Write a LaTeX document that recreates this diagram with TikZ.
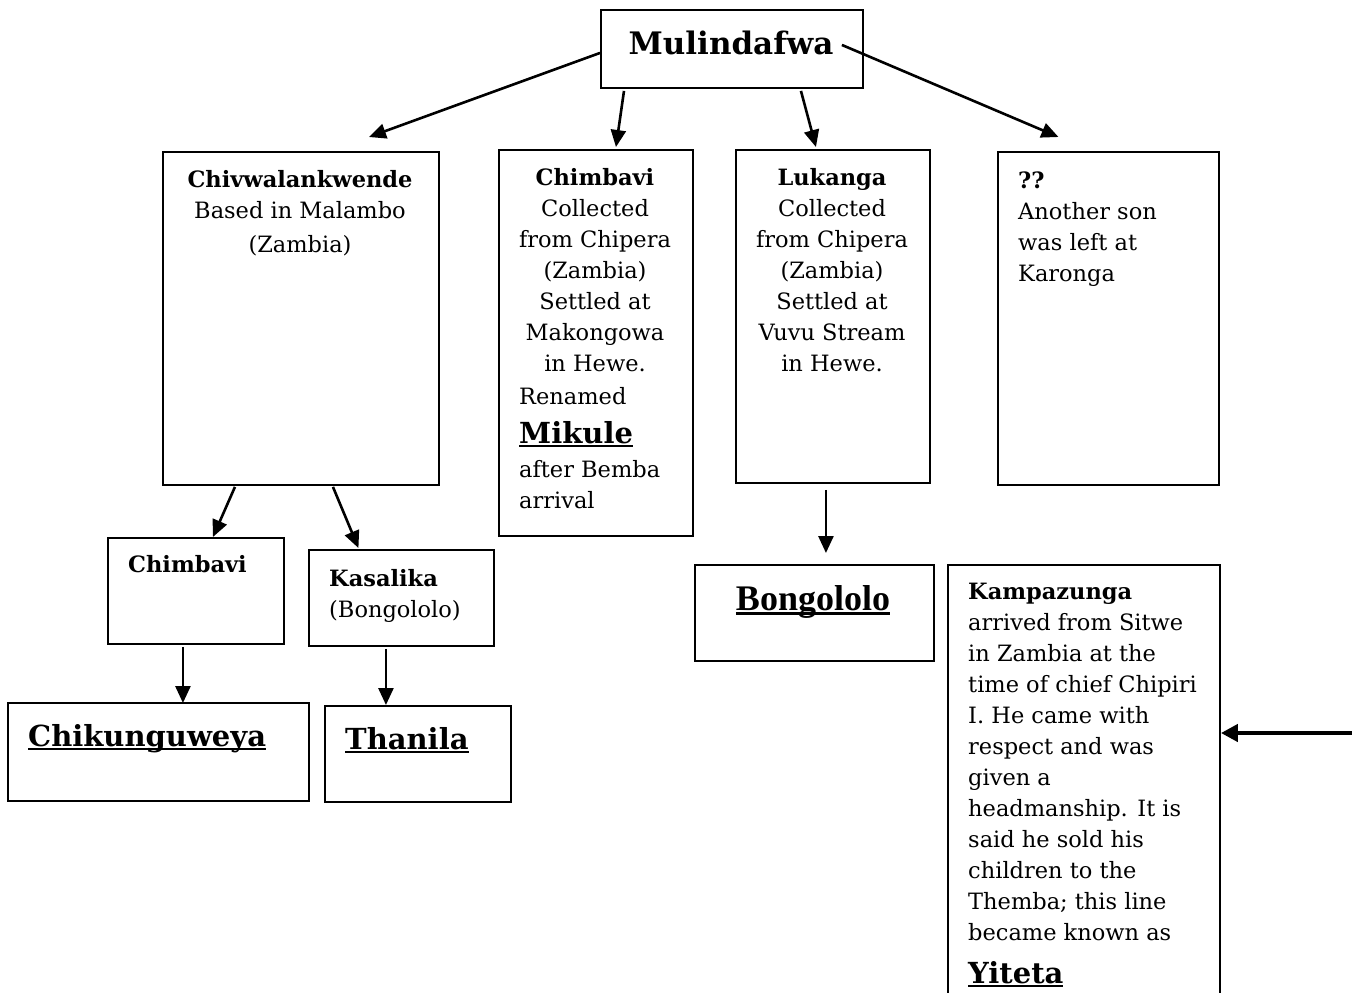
\documentclass[tikz,border=0pt]{standalone}
\usepackage{fontspec}
\setmainfont{DejaVu Serif}
\newfontfamily\timesfont{Liberation Serif}
\usetikzlibrary{arrows.meta,calc}
\newcommand\ulx[1]{\setbox0\hbox{#1}\rlap{\rule[-0.13em]{\wd0}{0.075em}}\box0}
\begin{document}
\begin{tikzpicture}[x=1pt,y=-1pt,
  box/.style={draw, line width=1.9pt, inner sep=0pt, anchor=north west},
  txt/.style={inner sep=0pt, font=\fontsize{22.5}{31}\selectfont},
  big/.style={inner sep=0pt, font=\fontsize{29}{34}\selectfont\bfseries, anchor=north west},
  arr/.style={-{Triangle[length=17pt,width=15pt]}, line width=2.6pt}]
\useasboundingbox (0,0) rectangle (1352,993);
% boxes
\node[box, minimum width=262pt, minimum height=78pt] (mul) at (600,9) {};
\node[box, minimum width=276pt, minimum height=333pt] (chiv) at (162,151) {};
\node[box, minimum width=194pt, minimum height=386pt] (chimb) at (498,149) {};
\node[box, minimum width=194pt, minimum height=333pt] (luk) at (735,149) {};
\node[box, minimum width=221pt, minimum height=333pt] (unk) at (997,151) {};
\node[box, minimum width=176pt, minimum height=106pt] (chimtwo) at (107,537) {};
\node[box, minimum width=185pt, minimum height=96pt] (kas) at (308,549) {};
\node[box, minimum width=301pt, minimum height=98pt] (chik) at (7,702) {};
\node[box, minimum width=186pt, minimum height=96pt] (than) at (324,705) {};
\node[box, minimum width=239pt, minimum height=96pt] (bong) at (694,564) {};
\node[box, minimum width=272pt, minimum height=460pt] (kamp) at (947,564) {};
% texts
\node[inner sep=0pt, font=\fontsize{31}{36}\selectfont\bfseries] (tmul) at (731,43) {Mulindafwa};
\node[txt, anchor=north, align=center] (tchiv) at (300,170) {\textbf{Chivwalankwende}\\Based in Malambo\\[3pt](Zambia)};
\node[txt, anchor=north, align=center] (tchimb) at (595,168) {\textbf{Chimbavi}\\Collected\\from Chipera\\(Zambia)\\Settled at\\Makongowa\\in Hewe.};
\node[txt, anchor=north west] (tren) at (519,387) {Renamed};
\node[big] (tmik) at (519,421) {\ulx{Mikule}};
\node[txt, anchor=north west, align=left] (taft) at (519,460) {after Bemba\\arrival};
\node[txt, anchor=north, align=center] (tluk) at (832,168) {\textbf{Lukanga}\\Collected\\from Chipera\\(Zambia)\\Settled at\\Vuvu Stream\\in Hewe.};
\node[txt, anchor=north west, align=left] (tunk) at (1018,172) {\textbf{??}\\Another son\\was left at\\Karonga};
\node[txt, anchor=north west] (tchimtwo) at (128,555) {\textbf{Chimbavi}};
\node[txt, anchor=north west, align=left] (tkas) at (329,569) {\textbf{Kasalika}\\(Bongololo)};
\node[big] (tchik) at (28,724) {\ulx{Chikunguweya}};
\node[big] (tthan) at (345,727) {\ulx{Thanila}};
\node[inner sep=0pt, anchor=north, font=\fontsize{36}{40}\timesfont\bfseries] (tbong) at (813,585) {\ulx{Bongololo}};
\node[txt, anchor=north west, align=left] (tkamp) at (968,583) {\textbf{Kampazunga}\\arrived from Sitwe\\in Zambia at the\\time of chief Chipiri\\I. He came with\\respect and was\\given a\\headmanship. It is\\said he sold his\\children to the\\Themba; this line\\became known as};
\node[big] (tyit) at (968,961) {\ulx{Yiteta}};
% connectors
\draw[arr] ([yshift=-4pt]mul.west) -- ([xshift=68pt,yshift=14pt]chiv.north);
\draw[arr] ([xshift=24pt,yshift=-2pt]mul.south west) -- ([xshift=20pt,yshift=2pt]chimb.north);
\draw[arr] ([xshift=69pt,yshift=-2pt]mul.south) -- ([xshift=-17pt,yshift=2pt]luk.north);
\draw[arr] ([xshift=-22pt,yshift=4pt]mul.east) -- ([xshift=-50pt,yshift=14pt]unk.north);
\draw[arr] ([xshift=-66pt,yshift=-1pt]chiv.south) -- ([xshift=17pt]chimtwo.north);
\draw[arr] ([xshift=32pt,yshift=-1pt]chiv.south) -- ([xshift=-43pt,yshift=1pt]kas.north);
\draw[arr] ([xshift=-13pt,yshift=-2pt]chimtwo.south) -- ([xshift=24.5pt,yshift=-1pt]chik.north);
\draw[arr] ([xshift=-15.5pt,yshift=-2pt]kas.south) -- ([xshift=-32pt]than.north);
\draw[arr] ([xshift=-7pt,yshift=-6pt]luk.south) -- ([xshift=11.5pt,yshift=11pt]bong.north);
\coordinate (src) at (1352,733);
\draw[-{Triangle[length=17pt,width=17pt]}, line width=4.6pt] (src) -- (kamp.east |- src);
\end{tikzpicture}
\end{document}
